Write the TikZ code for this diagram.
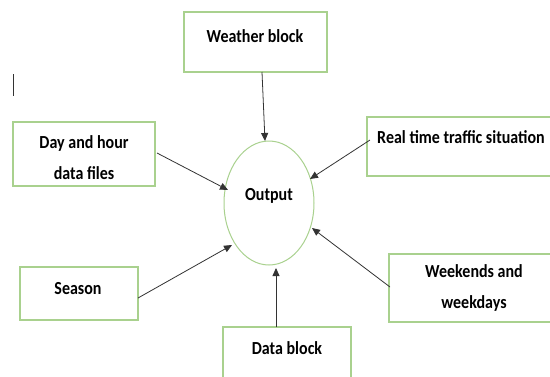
\documentclass[tikz,border=0pt]{standalone}
\usepackage{fontspec}
\setmainfont{Carlito}
\usetikzlibrary{arrows.meta,shapes.geometric}
\definecolor{boxgreen}{HTML}{A9D18E}
\definecolor{linegray}{HTML}{333333}
\newcommand\tallt[1]{\scalebox{1}[1.15]{#1}}
\tikzset{
  blk/.style={draw=boxgreen, line width=1.2pt, rectangle, inner sep=0pt},
  lbl/.style={font=\bfseries\fontsize{16}{31}\selectfont, align=center, inner sep=0pt, text=black},
  arr/.style={draw=linegray, line width=0.8pt, -{Triangle[length=8pt,width=7pt]}}
}
\begin{document}
\begin{tikzpicture}[x=1pt,y=-1pt]
\useasboundingbox (0,0) rectangle (550,376);
\fill[white] (0,0) rectangle (550,376);
% boxes
\node[blk, minimum width=143pt, minimum height=60pt] (w) at (255.5,42) {};
\node[blk, minimum width=142pt, minimum height=64pt] (d) at (84,154) {};
\node[blk, minimum width=185pt, minimum height=59pt] (r) at (459.5,146.5) {};
\node[blk, minimum width=118pt, minimum height=53pt] (s) at (79,293.5) {};
\node[blk, minimum width=163pt, minimum height=68pt] (k) at (470.5,288) {};
\node[blk, minimum width=128pt, minimum height=54pt] (b) at (287,354) {};
% ellipse
\node[draw=boxgreen, line width=1pt, ellipse, minimum width=90pt, minimum height=124pt, inner sep=0pt] (o) at (269,203) {};
% texts
\node[lbl] (tw) at (255,36) {\tallt{Weather block}};
\node[lbl] (td) at (84,157.5) {\tallt{Day and hour}\\\tallt{data files}};
\node[lbl] (tr) at (461,137) {\tallt{Real time traffic situation}};
\node[lbl] (ts) at (78,289) {\tallt{Season}};
\node[lbl] (tk) at (474,288) {\tallt{Weekends and}\\\tallt{weekdays}};
\node[lbl] (tb) at (287,348) {\tallt{Data block}};
\node[lbl] (to) at (269,196) {\tallt{Output}};
% cursor artifact
\coordinate (c1) at (13,74);
\coordinate (c2) at (13,96);
\draw[linegray, line width=0.8pt] (c1) -- (c2);
% arrow endpoints
\coordinate (wa) at (262,72);
\coordinate (wb) at (265,141);
\coordinate (da) at (157,153);
\coordinate (db) at (228,190);
\coordinate (ra) at (370,140);
\coordinate (rb) at (310,179);
\coordinate (sa) at (138,298);
\coordinate (sb) at (232,245);
\coordinate (ka) at (390,287);
\coordinate (kb) at (312,228);
\coordinate (ba) at (276,327);
\coordinate (bb) at (276,268);
\draw[arr] (wa) -- (wb);
\draw[arr] (da) -- (db);
\draw[arr] (ra) -- (rb);
\draw[arr] (sa) -- (sb);
\draw[arr] (ka) -- (kb);
\draw[arr] (ba) -- (bb);
\end{tikzpicture}
\end{document}
